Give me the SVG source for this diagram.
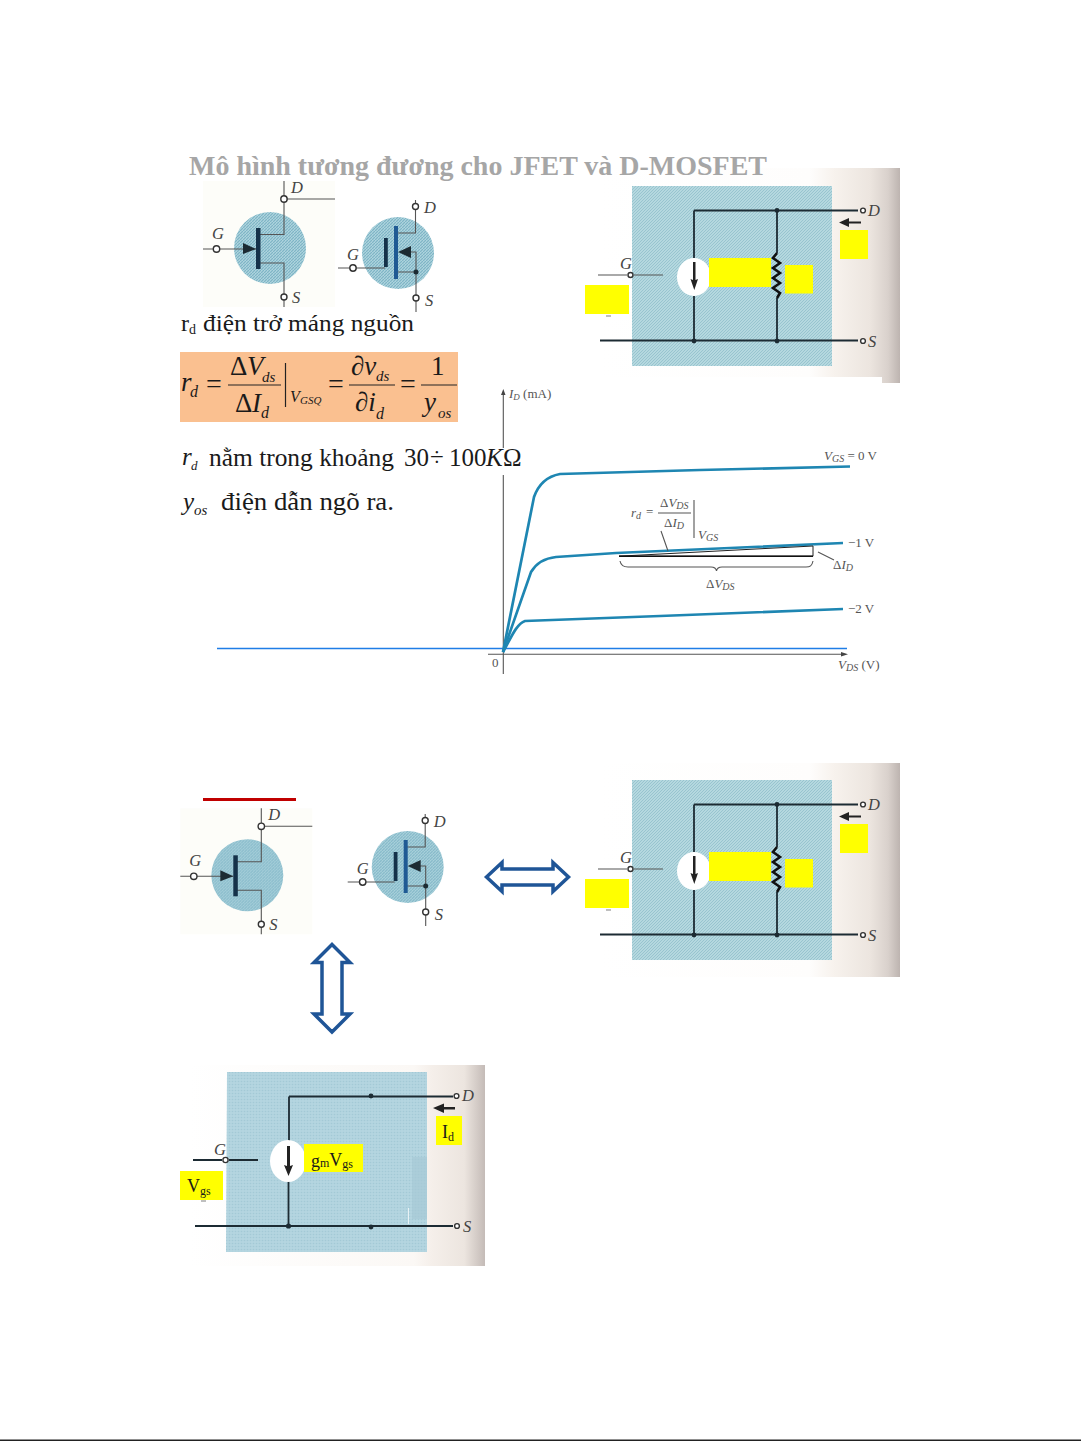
<svg xmlns="http://www.w3.org/2000/svg" width="1081" height="1441" viewBox="0 0 1081 1441">
<style>
text{font-family:"Liberation Serif","Times New Roman",serif;fill:#1a1a1a}
.i{font-style:italic}
.w{fill:none;stroke:#222;stroke-width:1.4}
.wg{fill:none;stroke:#555;stroke-width:1.1}
.wb{fill:none;stroke:#1c2b33;stroke-width:1.8}
.n{fill:#fff;stroke:#333;stroke-width:1.4}
.d{fill:#1c2b33}
.bar{fill:#15324a}
.y{fill:#ffff00}
.lab{font-size:16.5px;font-style:italic;fill:#444}
.glab{font-size:13px;fill:#555}
.f{fill:#222}
.c{fill:none;stroke:#1e86b2;stroke-width:2.7}
.ar{fill:#fff;stroke:#1f5597;stroke-width:3.5;stroke-linejoin:miter}
</style>
<defs>
<pattern id="dith" width="3" height="3" patternUnits="userSpaceOnUse">
<rect width="3" height="3" fill="#b5d8df"/><path d="M0 3L3 0" stroke="#98c4cf" stroke-width="1"/>
</pattern>
<pattern id="dithC" width="3" height="3" patternUnits="userSpaceOnUse">
<rect width="3" height="3" fill="#aed4de"/><path d="M0 3L3 0" stroke="#7db4c5" stroke-width="1.200"/>
</pattern>
<pattern id="dithL" width="3" height="3" patternUnits="userSpaceOnUse">
<rect width="3" height="3" fill="#b4d5e0"/><circle cx="1.5" cy="1.5" r=".8" fill="#a3c9d6"/>
</pattern>
<linearGradient id="paper" x1="0" x2="1" y1="0" y2="0">
<stop offset="0" stop-color="#fff"/><stop offset=".7" stop-color="#fefdfc"/><stop offset=".78" stop-color="#f7f2ed"/><stop offset=".9" stop-color="#ece5df"/><stop offset=".96" stop-color="#d9d1cc"/><stop offset="1" stop-color="#bdb4b0"/>
</linearGradient>
<linearGradient id="paper3" x1="0" x2="1" y1="0" y2="0">
<stop offset="0" stop-color="#fff"/><stop offset=".76" stop-color="#fbf8f5"/><stop offset=".82" stop-color="#f5efea"/><stop offset=".93" stop-color="#ece5df"/><stop offset="1" stop-color="#c4bbb7"/>
</linearGradient>
</defs>
<rect width="1081" height="1441" fill="#fff"/>
<rect x="0" y="1439.500" width="1081" height="1.500" fill="#222"/>

<g id="jfet-1">
<rect x="203" y="181" width="132" height="126" fill="#fdfdf9"/>
<circle cx="270" cy="248" r="36" fill="url(#dithC)"/>
<path class="wg" d="M284 181V234.500H259M284 199H335M259 263H284V307M203 249H256"/>
<rect class="bar" x="256" y="228" width="4.500" height="41"/>
<path class="d" d="M243 243L256 249L243 254Z"/>
<circle class="n" cx="284" cy="199" r="3.200"/><circle class="n" cx="216.500" cy="249" r="3.200"/><circle class="n" cx="284" cy="297" r="3"/>
<text class="lab" x="212" y="239">G</text><text class="lab" x="291" y="193">D</text><text class="lab" x="292" y="303">S</text>
</g>

<g id="mosfet-1">
<circle cx="398" cy="253" r="36" fill="url(#dithC)"/>
<path class="wg" d="M415.500 200V233H396M338 268H385M396 272H416M410 252H416V312"/>
<rect x="394" y="226" width="4" height="53" fill="#1f5a94"/>
<rect class="bar" x="384" y="238" width="3.800" height="29"/>
<path class="d" d="M398 252L411 246V258Z"/>
<circle class="d" cx="416" cy="272" r="2.500"/>
<circle class="n" cx="415.500" cy="206.500" r="3"/><circle class="n" cx="353" cy="268" r="3.200"/><circle class="n" cx="416" cy="298" r="3"/>
<text class="lab" x="347" y="260">G</text><text class="lab" x="424" y="213">D</text><text class="lab" x="425" y="306">S</text>
</g>

<g id="circuit-1">
<path d="M600 168H900V383H882V377H600Z" fill="url(#paper)"/>
<rect x="632" y="186" width="200" height="180" fill="url(#dith)"/>
<path class="wb" d="M694 210.500H858M600 340.500H858M694 210.500V258M694 296V341"/>
<path class="wb" stroke-width="1.2" d="M777 210V253M777 298V341"/>
<ellipse cx="694" cy="277" rx="17" ry="19" fill="#fff"/>
<path d="M777 253L773 258L780 263L773 268L780 273L773 278L780 283L773 288L780 293L777 298" fill="none" stroke="#111" stroke-width="2.600"/>
<path class="f" d="M693 262H695.500V280L698 279L694.300 290L690.500 279L693 280Z"/>
<path class="wg" d="M598 275H627M634 275H663"/>
<circle class="n" cx="630.500" cy="275" r="2.500"/>
<circle class="d" cx="777" cy="210.500" r="2.400"/><circle class="d" cx="694" cy="341" r="2.400"/><circle class="d" cx="777" cy="341" r="2.400"/>
<circle class="n" cx="863" cy="210.500" r="2.400"/><circle class="n" cx="863" cy="341" r="2.400"/>
<path class="f" d="M839 222.500L849 218V221.500H861V223.500H849V227Z"/>
<path d="M606 316H611" stroke="#aaa" stroke-width="1.500"/>
<rect class="y" x="709" y="258" width="62" height="29"/><rect class="y" x="785" y="265" width="28" height="28.500"/><rect class="y" x="840" y="230" width="28" height="29"/><rect class="y" x="585" y="285" width="44" height="29"/>
<text class="lab" x="620" y="269">G</text><text class="lab" x="868" y="216">D</text><text class="lab" x="868" y="347">S</text>
</g>

<g id="title"><text x="189" y="175" font-size="27" font-weight="700" style="fill:#a6a6a6" textLength="578" lengthAdjust="spacingAndGlyphs">Mô hình tương đương cho JFET và D-MOSFET</text></g>

<g id="output-panel">
<text x="181" y="331" font-size="24">r</text><text x="189" y="334" font-size="14">d</text>
<text x="203" y="331" font-size="24" textLength="211" lengthAdjust="spacingAndGlyphs">điện trở máng nguồn</text>
</g>

<g id="formula">
<rect x="180" y="352" width="278" height="70" fill="#fac090"/>
<text class="i" x="181" y="391" font-size="27">r</text><text class="i" x="190" y="397" font-size="16">d</text>
<text x="206" y="393" font-size="28">=</text>
<text x="230" y="375" font-size="27">Δ</text><text class="i" x="247" y="375" font-size="27">V</text><text class="i" x="262" y="382" font-size="15">ds</text>
<text x="235" y="412" font-size="27">Δ</text><text class="i" x="252" y="412" font-size="27">I</text><text class="i" x="261" y="418" font-size="16">d</text>
<path d="M228 385H281M349 385H395M421 385H457" stroke="#222" stroke-width="1.200"/>
<path d="M285.500 363V407" stroke="#222" stroke-width="1.200"/>
<text class="i" x="290" y="402" font-size="16">V</text><text class="i" x="300" y="404" font-size="11">GSQ</text>
<text x="328" y="393" font-size="28">=</text>
<text class="i" x="351" y="375" font-size="27">∂v</text><text class="i" x="376" y="381" font-size="15">ds</text>
<text class="i" x="355" y="411" font-size="27">∂i</text><text class="i" x="376" y="419" font-size="16">d</text>
<text x="400" y="393" font-size="28">=</text>
<text x="431" y="375" font-size="27">1</text>
<text class="i" x="424" y="411" font-size="27">y</text><text class="i" x="438" y="418" font-size="15">os</text>
</g>

<g id="rd-range">
<text class="i" x="182" y="465" font-size="25">r</text><text class="i" x="191" y="470" font-size="13">d</text>
<text x="209" y="466" font-size="25" textLength="185" lengthAdjust="spacingAndGlyphs">nằm trong khoảng</text>
<text x="404" y="466" font-size="25">30</text><text x="430" y="466" font-size="25">÷</text><text x="449" y="466" font-size="25">100</text><text class="i" x="486" y="466" font-size="25">K</text><text x="503" y="466" font-size="25">Ω</text>
</g>

<g id="yos">
<text class="i" x="183" y="510" font-size="25">y</text><text class="i" x="194" y="515" font-size="15">os</text>
<text x="221" y="510" font-size="25" textLength="173" lengthAdjust="spacingAndGlyphs">điện dẫn ngõ ra.</text>
</g>

<g id="graph">
<path class="wg" d="M503.300 392V448M503.300 475V674M488 654.300H843"/>
<path d="M503.300 389L501 395H505.500ZM848 654.300L841 652V656.500Z" fill="#444"/>
<path d="M217 648.500H847" stroke="#1f7de6" stroke-width="1.300"/>
<path class="c" d="M503 652L534 497C539 483 549 476 560 474L700 470L850 466.500"/>
<path class="c" d="M503 652L531 572C537 562 546 558 556 557L616 553L843 543"/>
<path class="c" d="M503 652C510 640 516 624 525 621L660 616L843 609"/>
<path d="M619 556.200L813 546V556.200Z" fill="none" stroke="#222" stroke-width="1"/>
<path d="M619 556.200H813" stroke="#111" stroke-width="1.500"/>
<path class="wg" d="M620 561C621 566 624 567 628 567H711C714 567 716 568 716.500 571C717 568 719 567 722 567H806C810 567 812 566 813 561"/>
<path class="wg" d="M818 552L834 560M661 531L668 551M694 500V538"/>
<path class="wg" d="M658 513H691"/>
<text class="glab i" x="631" y="517" style="font-style:italic">r<tspan font-size="10" dy="2">d</tspan></text><text class="glab" x="646" y="516">=</text>
<text class="glab" x="660" y="507">Δ<tspan font-style="italic">V<tspan font-size="10" dy="2">DS</tspan></tspan></text>
<text class="glab" x="664" y="527">Δ<tspan font-style="italic">I<tspan font-size="10" dy="2">D</tspan></tspan></text>
<text class="glab" x="698" y="539" font-style="italic">V<tspan font-size="10" dy="2">GS</tspan></text>
<text class="glab" x="509" y="398"><tspan font-style="italic">I<tspan font-size="9" dy="2">D</tspan></tspan><tspan dy="-2"> (mA)</tspan></text>
<text class="glab" x="824" y="460"><tspan font-style="italic">V<tspan font-size="10" dy="2">GS</tspan></tspan><tspan dy="-2"> = 0 V</tspan></text>
<text class="glab" x="848" y="547">−1 V</text><text class="glab" x="848" y="613">−2 V</text>
<text class="glab" x="706" y="588">Δ<tspan font-style="italic">V<tspan font-size="10" dy="2">DS</tspan></tspan></text>
<text class="glab" x="833" y="569">Δ<tspan font-style="italic">I<tspan font-size="10" dy="2">D</tspan></tspan></text>
<text class="glab" x="492" y="667">0</text>
<text class="glab" x="838" y="669"><tspan font-style="italic">V<tspan font-size="10" dy="2">DS</tspan></tspan><tspan dy="-2"> (V)</tspan></text>
</g>

<rect id="red-bar" x="203" y="798" width="93" height="3" fill="#c00000"/>

<g id="jfet-2" transform="translate(-22.700 627.300)">
<rect x="203" y="181" width="132" height="126" fill="#fdfdf9"/>
<circle cx="270" cy="248" r="36" fill="url(#dithC)"/>
<path class="wg" d="M284 181V234.500H259M284 199H335M259 263H284V307M203 249H256"/>
<rect class="bar" x="256" y="228" width="4.500" height="41"/>
<path class="d" d="M243 243L256 249L243 254Z"/>
<circle class="n" cx="284" cy="199" r="3.200"/><circle class="n" cx="216.500" cy="249" r="3.200"/><circle class="n" cx="284" cy="297" r="3"/>
<text class="lab" x="212" y="239">G</text><text class="lab" x="291" y="193">D</text><text class="lab" x="292" y="303">S</text>
</g>

<g id="mosfet-2" transform="translate(9.700 614)">
<circle cx="398" cy="253" r="36" fill="url(#dithC)"/>
<path class="wg" d="M415.500 200V233H396M338 268H385M396 272H416M410 252H416V312"/>
<rect x="394" y="226" width="4" height="53" fill="#1f5a94"/>
<rect class="bar" x="384" y="238" width="3.800" height="29"/>
<path class="d" d="M398 252L411 246V258Z"/>
<circle class="d" cx="416" cy="272" r="2.500"/>
<circle class="n" cx="415.500" cy="206.500" r="3"/><circle class="n" cx="353" cy="268" r="3.200"/><circle class="n" cx="416" cy="298" r="3"/>
<text class="lab" x="347" y="260">G</text><text class="lab" x="424" y="213">D</text><text class="lab" x="425" y="306">S</text>
</g>

<g id="circuit-2" transform="translate(0 594)">
<path d="M600 169H900V383H600Z" fill="url(#paper)"/>
<rect x="632" y="186" width="200" height="180" fill="url(#dith)"/>
<path class="wb" d="M694 210.500H858M600 340.500H858M694 210.500V258M694 296V341"/>
<path class="wb" stroke-width="1.2" d="M777 210V253M777 298V341"/>
<ellipse cx="694" cy="277" rx="17" ry="19" fill="#fff"/>
<path d="M777 253L773 258L780 263L773 268L780 273L773 278L780 283L773 288L780 293L777 298" fill="none" stroke="#111" stroke-width="2.600"/>
<path class="f" d="M693 262H695.500V280L698 279L694.300 290L690.500 279L693 280Z"/>
<path class="wg" d="M598 275H627M634 275H663"/>
<circle class="n" cx="630.500" cy="275" r="2.500"/>
<circle class="d" cx="777" cy="210.500" r="2.400"/><circle class="d" cx="694" cy="341" r="2.400"/><circle class="d" cx="777" cy="341" r="2.400"/>
<circle class="n" cx="863" cy="210.500" r="2.400"/><circle class="n" cx="863" cy="341" r="2.400"/>
<path class="f" d="M839 222.500L849 218V221.500H861V223.500H849V227Z"/>
<path d="M606 316H611" stroke="#aaa" stroke-width="1.500"/>
<rect class="y" x="709" y="258" width="62" height="29"/><rect class="y" x="785" y="265" width="28" height="28.500"/><rect class="y" x="840" y="230" width="28" height="29"/><rect class="y" x="585" y="285" width="44" height="29"/>
<text class="lab" x="620" y="269">G</text><text class="lab" x="868" y="216">D</text><text class="lab" x="868" y="347">S</text>
</g>

<g id="circuit-3">
<rect x="190" y="1065" width="295" height="201" fill="url(#paper3)"/>
<path d="M227 1072H427V1252H226Z" fill="url(#dithL)"/>
<rect x="412" y="1157" width="15" height="62" fill="#a6c9d6" opacity=".7"/>
<path d="M408.500 1208V1224" stroke="#e8f2f5" stroke-width="1"/>
<path class="wb" d="M289 1096.500H453M195 1226H453M289 1096.500V1142M288.500 1180V1226"/>
<ellipse cx="288" cy="1161" rx="18" ry="21" fill="#fff"/>
<path class="f" d="M287 1146H290V1166L293 1165L288.500 1176L284 1165L287 1166Z"/>
<path class="wb" stroke-width="1.400" d="M193 1160H222M229 1160H258"/>
<circle class="n" cx="225.500" cy="1160" r="2.600"/>
<circle class="d" cx="371" cy="1096" r="2.400"/><circle class="d" cx="288.500" cy="1226" r="2.600"/><circle class="d" cx="371" cy="1227" r="2.400"/>
<circle class="n" cx="456.500" cy="1096" r="2.400"/><circle class="n" cx="457" cy="1226" r="2.400"/>
<path class="f" d="M433 1108L444 1103.500V1107H455V1109.500H444V1113Z"/>
<path d="M201 1201H206" stroke="#aaa" stroke-width="1.500"/>
<rect class="y" x="304" y="1144" width="59" height="28"/><rect class="y" x="436" y="1116" width="26" height="29"/><rect class="y" x="180" y="1171" width="43" height="29"/>
<text x="311" y="1167" font-size="18">g<tspan font-size="12" dy="0">m</tspan><tspan dy="-1">V</tspan><tspan font-size="12" dy="2">gs</tspan></text>
<text x="442" y="1138" font-size="18">I<tspan font-size="12" dy="3">d</tspan></text>
<text x="187" y="1192" font-size="18">V<tspan font-size="12" dy="3">gs</tspan></text>
<text class="lab" x="214" y="1155">G</text><text class="lab" x="462" y="1101">D</text><text class="lab" x="463" y="1232">S</text>
</g>

<g id="connectors">
<path class="ar" d="M486.500 877L502 862.500V869H553V862.500L568.500 877L553 891.500V885H502V891.500Z"/>
<path class="ar" d="M332 944.500L350 962.500H342V1014H350L332 1032L314 1014H322V962.500H314Z"/>
</g>
</svg>
